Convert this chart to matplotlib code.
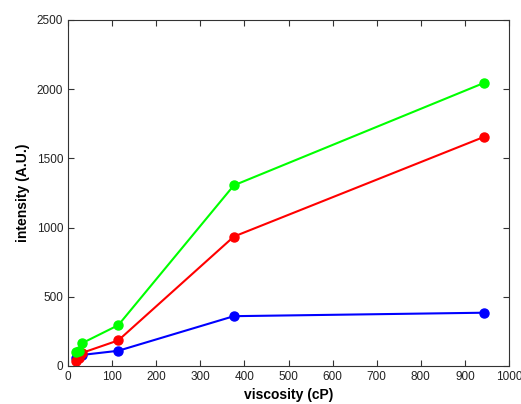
import matplotlib
matplotlib.use("Agg")
import matplotlib.pyplot as plt

viscosity = [18, 24, 32, 114, 376, 943]
green = [100, 110, 165, 295, 1305, 2045]
red = [35, 60, 95, 185, 935, 1655]
blue = [55, 70, 80, 110, 360, 385]

xticks = [0, 100, 200, 300, 400, 500, 600, 700, 800, 900, 1000]
yticks = [0, 500, 1000, 1500, 2000, 2500]

plt.rcParams['font.family'] = ['Liberation Sans', 'DejaVu Sans']
fig = plt.figure(figsize=(5.21, 4.04), dpi=100)
ax = fig.add_axes([68/521, 38/404, 441/521, 346/404])

for y, c in [(blue, '#0000ff'), (red, '#ff0000'), (green, '#00ff00')]:
    ax.plot(viscosity, y, color=c, lw=1.5, marker='o', ms=6.5, mec=c, mfc=c)

ax.set_xlim(0, 1000)
ax.set_ylim(0, 2500)
ax.set_xticks(xticks)
ax.set_yticks(yticks)
ax.tick_params(direction='in', top=True, right=True, labelsize=8.5, length=4, color='#333333', labelcolor='#222222')
for s in ax.spines.values():
    s.set_color('#333333')
    s.set_linewidth(0.8)
ax.set_xlabel('viscosity (cP)', fontsize=10, fontweight='bold', labelpad=4)
ax.set_ylabel('intensity (A.U.)', fontsize=10, fontweight='bold', labelpad=5)

fig.savefig('out.png', dpi=100)
